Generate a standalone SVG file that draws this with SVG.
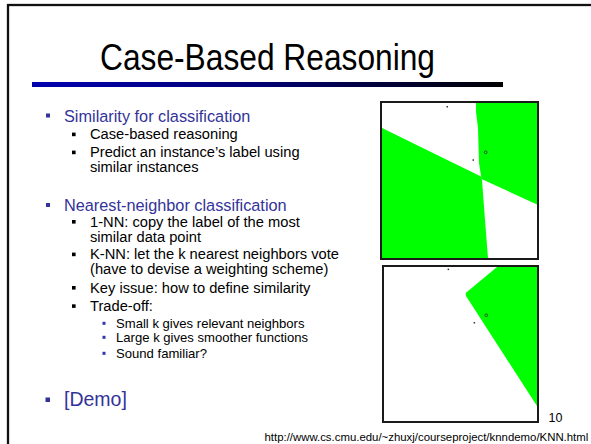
<svg xmlns="http://www.w3.org/2000/svg" width="591" height="444" viewBox="0 0 591 444">
  <defs>
    <linearGradient id="rule" x1="0" y1="0" x2="1" y2="0">
      <stop offset="0" stop-color="#0000b0"/>
      <stop offset="0.5" stop-color="#000070"/>
      <stop offset="1" stop-color="#000000"/>
    </linearGradient>
  </defs>
  <style>
    text { font-family: "Liberation Sans", Arial, sans-serif; }
    .title { font-size: 36px; fill: #000; }
    .l1 { font-size: 16.3px; fill: #333399; }
    .l2 { font-size: 14.7px; fill: #000; }
    .l3 { font-size: 13.1px; fill: #000; }
    .b1 { fill: #333399; }
    .b2 { fill: #000; }
    .b3 { fill: #3333aa; }
    .frame { fill: #fff; stroke: #1a1a1a; stroke-width: 2; }
    .green { fill: #00ff00; }
    .pt { fill: #333; }
    .ring { fill: none; stroke: #333; stroke-width: 0.8; }
    .small { font-size: 11.4px; fill: #000; }
  </style>

  <!-- page -->
  <rect x="0" y="0" width="591" height="444" fill="#fff"/>
  <rect x="8" y="5" width="600" height="460" fill="none" stroke="#111" stroke-width="2.3"/>

  <!-- heading -->
  <g id="heading">
    <text class="title" x="100" y="70" textLength="335" lengthAdjust="spacingAndGlyphs">Case-Based Reasoning</text>
    <rect x="32" y="82" width="471" height="5" fill="url(#rule)"/>
  </g>

  <!-- bullet list -->
  <g id="bullets">
    <rect class="b1" x="46" y="113.5" width="4" height="4"/>
    <text class="l1" x="64" y="121.5">Similarity for classification</text>

    <rect class="b2" x="72" y="132.6" width="3.6" height="3.6"/>
    <text class="l2" x="90" y="139.3">Case-based reasoning</text>
    <rect class="b2" x="72" y="150.6" width="3.6" height="3.6"/>
    <text class="l2" x="90" y="157.3">Predict an instance’s label using</text>
    <text class="l2" x="90" y="172.3">similar instances</text>

    <rect class="b1" x="46" y="203" width="4" height="4"/>
    <text class="l1" x="64" y="211">Nearest-neighbor classification</text>

    <rect class="b2" x="72" y="220" width="3.6" height="3.6"/>
    <text class="l2" x="90" y="226.7">1-NN: copy the label of the most</text>
    <text class="l2" x="90" y="241.7">similar data point</text>
    <rect class="b2" x="72" y="252.6" width="3.6" height="3.6"/>
    <text class="l2" x="90" y="259.3">K-NN: let the k nearest neighbors vote</text>
    <text class="l2" x="90" y="274.3">(have to devise a weighting scheme)</text>
    <rect class="b2" x="72" y="286" width="3.6" height="3.6"/>
    <text class="l2" x="90" y="292.7">Key issue: how to define similarity</text>
    <rect class="b2" x="72" y="304.3" width="3.6" height="3.6"/>
    <text class="l2" x="90" y="311">Trade-off:</text>

    <rect class="b3" x="102.5" y="321.8" width="3" height="3"/>
    <text class="l3" x="116" y="328.3">Small k gives relevant neighbors</text>
    <rect class="b3" x="102.5" y="335.8" width="3" height="3"/>
    <text class="l3" x="116" y="342.3">Large k gives smoother functions</text>
    <rect class="b3" x="102.5" y="351.8" width="3" height="3"/>
    <text class="l3" x="116" y="358.3">Sound familiar?</text>

    <rect class="b1" x="45.5" y="397.5" width="4.5" height="4.5"/>
    <text class="l1" x="64" y="406" style="font-size:19.5px">[Demo]</text>
  </g>

  <!-- decision regions, smaller k -->
  <g id="plot-top">
    <rect class="frame" x="381" y="102" width="157" height="157"/>
    <polygon class="green" points="476,103 537,103 537,204.5 481.5,179 479,163 478,128 476,112"/>
    <polygon class="green" points="382,128 481,176.5 482,180 485,220 488,258 382,258"/>
    <rect class="pt" x="446.5" y="106" width="1.5" height="1.5"/>
    <rect class="pt" x="472.5" y="159.3" width="1.5" height="1.5"/>
    <circle class="ring" cx="485.7" cy="152.3" r="1.4"/>
  </g>

  <!-- decision regions, larger k -->
  <g id="plot-bottom">
    <rect class="frame" x="383" y="266" width="155" height="156"/>
    <polygon class="green" points="497,267 537,267 537,406 466,296 465.7,293"/>
    <rect class="pt" x="447.6" y="268.6" width="1.5" height="1.5"/>
    <rect class="pt" x="473.6" y="322" width="1.5" height="1.5"/>
    <circle class="ring" cx="486.3" cy="315.3" r="1.4"/>
  </g>

  <!-- footer -->
  <g id="footer">
    <text class="small" x="562.5" y="421.7" text-anchor="end" style="font-size:12.5px">10</text>
    <text class="small" x="588.3" y="441" text-anchor="end">http://www.cs.cmu.edu/~zhuxj/courseproject/knndemo/KNN.html</text>
  </g>
</svg>
